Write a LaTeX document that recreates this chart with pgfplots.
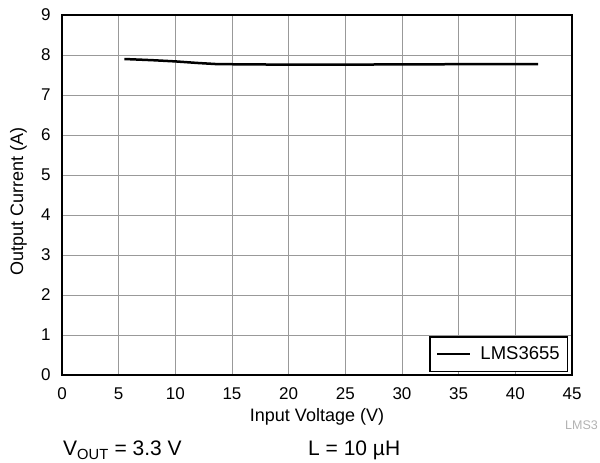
\documentclass[border=0pt]{standalone}
\usepackage{fontspec}
\setmainfont{Liberation Sans}
\usepackage{pgfplots}
\pgfplotsset{compat=1.18}
\begin{document}
\begin{tikzpicture}[x=1pt,y=1pt]
\path[use as bounding box] (0,0) rectangle (600,463);
\begin{axis}[
  at={(62pt,88pt)}, anchor=south west,
  scale only axis, width=510pt, height=360pt,
  xmin=0, xmax=45, ymin=0, ymax=9,
  xtick={0,5,...,45}, ytick={0,1,...,9},
  grid=major,
  grid style={gray!80, line width=0.8pt},
  axis line style={line width=2pt},
  tick style={draw=none},
  /pgf/number format/assume math mode=true,
  tick label style={font=\fontsize{17pt}{19pt}\selectfont},
  xticklabel style={yshift=-9pt},
  yticklabel style={xshift=-8pt},
  xlabel={Input Voltage (V)},
  ylabel={Output Current (A)},
  xlabel style={font=\fontsize{18pt}{20pt}\selectfont, at={(axis description cs:0.5,0)}, anchor=base, yshift=-47pt},
  ylabel style={font=\fontsize{18pt}{20pt}\selectfont, at={(axis description cs:-0.0853,0.483)}, anchor=center},
  legend style={at={(0.993,0.008)}, anchor=south east, draw=black, line width=1.5pt,
     font=\fontsize{18.5pt}{20pt}\selectfont, inner xsep=6pt, inner ysep=8pt, legend cell align=left},
  legend image code/.code={\draw[black, line width=2.5pt] (0pt,0pt) -- (33pt,0pt); \path (40pt,0pt);},
]
\addplot[black, line width=2.5pt] coordinates {
(5.5,7.90) (8,7.87) (10,7.84) (12,7.80) (13.5,7.775) (16,7.765) (20,7.76) (25,7.76) (30,7.765) (35,7.77) (40,7.775) (42,7.775)
};
\addlegendentry{LMS3655}
\end{axis}
\node[anchor=base west, text=gray!60, font=\fontsize{12.5pt}{14pt}\selectfont, inner sep=0pt] at (565,33) {LMS3};
\node[anchor=base west, font=\fontsize{21pt}{24pt}\selectfont, inner sep=0pt] at (63,7) {V\textsubscript{OUT} = 3.3 V};
\node[anchor=base west, font=\fontsize{21pt}{24pt}\selectfont, inner sep=0pt] at (308,7) {L = 10 µH};
\end{tikzpicture}
\end{document}
